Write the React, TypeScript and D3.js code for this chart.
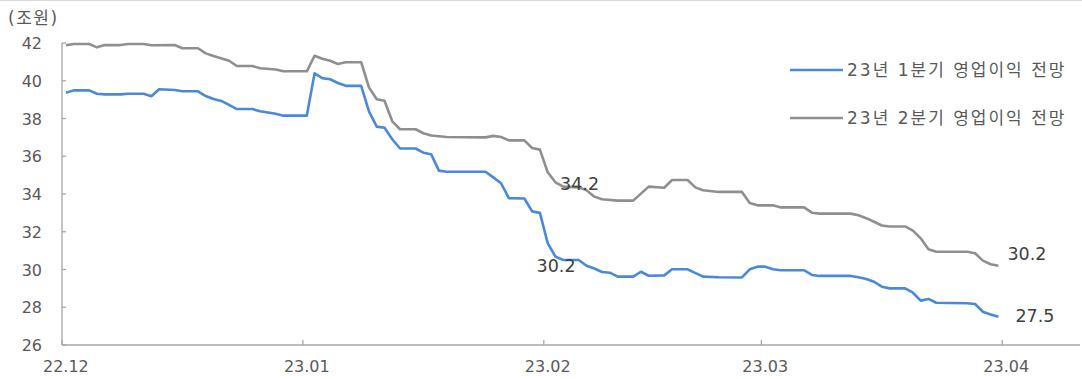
import React from "react";
import * as d3 from "d3";

// Consensus operating profit (trillion won), daily vertices
const q1Dates = [
  "2022-12-01","2022-12-02","2022-12-04","2022-12-05","2022-12-06","2022-12-08","2022-12-09","2022-12-11",
  "2022-12-12","2022-12-13","2022-12-15","2022-12-16","2022-12-18","2022-12-19","2022-12-20","2022-12-21",
  "2022-12-22","2022-12-23","2022-12-25","2022-12-26","2022-12-28","2022-12-29","2023-01-01","2023-01-02",
  "2023-01-03","2023-01-04","2023-01-05","2023-01-06","2023-01-08","2023-01-09","2023-01-10","2023-01-11",
  "2023-01-12","2023-01-13","2023-01-15","2023-01-16","2023-01-17","2023-01-18","2023-01-19","2023-01-24",
  "2023-01-25","2023-01-26","2023-01-27","2023-01-29","2023-01-30","2023-01-31","2023-02-01","2023-02-02",
  "2023-02-03","2023-02-05","2023-02-06","2023-02-07","2023-02-08","2023-02-09","2023-02-10","2023-02-12",
  "2023-02-13","2023-02-14","2023-02-16","2023-02-17","2023-02-19","2023-02-21","2023-02-23","2023-02-26",
  "2023-02-27","2023-02-28","2023-03-01","2023-03-02","2023-03-03","2023-03-06","2023-03-07","2023-03-08",
  "2023-03-12","2023-03-13","2023-03-14","2023-03-15","2023-03-16","2023-03-17","2023-03-19","2023-03-20",
  "2023-03-21","2023-03-22","2023-03-23","2023-03-27","2023-03-28","2023-03-29","2023-03-30","2023-03-31",
];
const q1Values = [
  39.37,39.49,39.49,39.31,39.28,39.28,39.31,39.31,
  39.18,39.55,39.51,39.44,39.44,39.19,39.03,38.93,
  38.72,38.5,38.5,38.38,38.25,38.15,38.15,40.39,
  40.14,40.08,39.88,39.73,39.73,38.38,37.57,37.51,
  36.9,36.41,36.41,36.19,36.11,35.24,35.18,35.18,
  34.88,34.57,33.78,33.76,33.08,33.0,31.4,30.68,
  30.5,30.5,30.2,30.05,29.87,29.83,29.62,29.62,
  29.88,29.67,29.69,30.01,30.01,29.62,29.59,29.58,
  30.01,30.15,30.15,30.01,29.96,29.96,29.71,29.66,
  29.66,29.59,29.5,29.35,29.09,29.0,29.0,28.77,
  28.35,28.44,28.24,28.21,28.17,27.76,27.62,27.5,
];

const q2Dates = [
  "2022-12-01","2022-12-02","2022-12-04","2022-12-05","2022-12-06","2022-12-08","2022-12-09","2022-12-11",
  "2022-12-12","2022-12-15","2022-12-16","2022-12-18","2022-12-19","2022-12-20","2022-12-22","2022-12-23",
  "2022-12-25","2022-12-26","2022-12-28","2022-12-29","2023-01-01","2023-01-02","2023-01-03","2023-01-04",
  "2023-01-05","2023-01-06","2023-01-08","2023-01-09","2023-01-10","2023-01-11","2023-01-12","2023-01-13",
  "2023-01-15","2023-01-16","2023-01-17","2023-01-19","2023-01-24","2023-01-25","2023-01-26","2023-01-27",
  "2023-01-29","2023-01-30","2023-01-31","2023-02-01","2023-02-02","2023-02-03","2023-02-05","2023-02-06",
  "2023-02-07","2023-02-08","2023-02-10","2023-02-12","2023-02-14","2023-02-16","2023-02-17","2023-02-19",
  "2023-02-20","2023-02-21","2023-02-23","2023-02-26","2023-02-27","2023-02-28","2023-03-02","2023-03-03",
  "2023-03-06","2023-03-07","2023-03-08","2023-03-12","2023-03-13","2023-03-14","2023-03-15","2023-03-16",
  "2023-03-17","2023-03-19","2023-03-20","2023-03-21","2023-03-22","2023-03-23","2023-03-27","2023-03-28",
  "2023-03-29","2023-03-30","2023-03-31",
];
const q2Values = [
  41.88,41.95,41.95,41.77,41.89,41.89,41.95,41.95,
  41.88,41.89,41.72,41.72,41.45,41.31,41.06,40.78,
  40.78,40.66,40.6,40.5,40.5,41.32,41.17,41.06,
  40.89,40.98,40.98,39.65,39.02,38.94,37.85,37.43,
  37.43,37.22,37.1,37.02,37.0,37.08,37.02,36.84,
  36.84,36.44,36.35,35.15,34.62,34.39,34.35,34.2,
  33.86,33.72,33.65,33.65,34.39,34.33,34.74,34.74,
  34.35,34.2,34.11,34.11,33.52,33.4,33.4,33.29,
  33.29,33.01,32.96,32.96,32.87,32.72,32.53,32.33,
  32.28,32.28,32.06,31.65,31.07,30.94,30.94,30.86,
  30.47,30.28,30.2,
];

const seriesNames = ["23년 1분기 영업이익 전망", "23년 2분기 영업이익 전망"];
const seriesColors = ["#4a88da", "#8f8f8f"];

const yTicks = [26, 28, 30, 32, 34, 36, 38, 40, 42];
const xTickDates = ["2022-12-01", "2023-01-01", "2023-02-01", "2023-03-01", "2023-04-01"];
const xTickLabels = ["22.12", "23.01", "23.02", "23.03", "23.04"];

// Labelled points: [series index, date]
const callouts: [number, string][] = [
  [1, "2023-02-06"],
  [0, "2023-02-06"],
  [1, "2023-03-31"],
  [0, "2023-03-31"],
];

const W = 1082;
const H = 379;
const FONT = "'DejaVu Sans', 'Noto Sans CJK KR', sans-serif";

const parse = (s: string) => new Date(s + "T00:00:00Z");
const midDay = (s: string) => new Date(parse(s).getTime() + 12 * 3600 * 1000);

export default function App() {
  const x = d3
    .scaleUtc()
    .domain([parse("2022-12-01"), parse("2023-04-11")])
    .range([62, 1080]);
  const y = d3.scaleLinear().domain([26, 42]).range([345, 43]);

  const series = [
    q1Dates.map((d, i) => ({ date: d, value: q1Values[i] })),
    q2Dates.map((d, i) => ({ date: d, value: q2Values[i] })),
  ];

  const line = d3
    .line<{ date: string; value: number }>()
    .x((d) => x(midDay(d.date)))
    .y((d) => y(d.value));

  const axisColor = "#a6a6a6";
  const textColor = "#595959";

  const calloutOffsets = [
    { dx: -7, dy: 0, anchor: "middle" },
    { dx: -11, dy: 6.5, anchor: "end" },
    { dx: 9, dy: -6, anchor: "start" },
    { dx: 17, dy: 5.5, anchor: "start" },
  ];

  return (
    <svg
      width={W}
      height={H}
      style={{ position: "absolute", left: 0, top: 0, background: "#fff" }}
      fontFamily={FONT}
    >
      <line x1={0} x2={W} y1={0.5} y2={0.5} stroke="#d9d9d9" strokeWidth={1} />

      <text x={8} y={24} fontSize={17} letterSpacing={1.5} fill={textColor}>
        (조원)
      </text>

      {/* y axis */}
      <line x1={62} x2={62} y1={y(42)} y2={y(26)} stroke={axisColor} strokeWidth={1.3} />
      {yTicks.map((t) => (
        <g key={t}>
          <line x1={62} x2={66} y1={y(t)} y2={y(t)} stroke={axisColor} strokeWidth={1.3} />
          <text x={42} y={y(t) + 6} fontSize={16} fill={textColor} textAnchor="end">
            {t}
          </text>
        </g>
      ))}

      {/* x axis */}
      <line x1={62} x2={1080} y1={y(26)} y2={y(26)} stroke={axisColor} strokeWidth={1.3} />
      {xTickDates.map((d, i) => (
        <g key={d}>
          <line
            x1={x(parse(d))}
            x2={x(parse(d))}
            y1={y(26)}
            y2={y(26) - 5}
            stroke={axisColor}
            strokeWidth={1.3}
          />
          <text x={x(midDay(d))} y={372} fontSize={16} fill={textColor} textAnchor="middle">
            {xTickLabels[i]}
          </text>
        </g>
      ))}

      {/* series */}
      {series.map((s, i) => (
        <path
          key={i}
          d={line(s) || ""}
          fill="none"
          stroke={seriesColors[i]}
          strokeWidth={2.6}
          strokeLinejoin="round"
        />
      ))}

      {/* callouts */}
      {callouts.map(([si, d], k) => {
        const p = series[si].find((v) => v.date === d)!;
        const o = calloutOffsets[k];
        return (
          <text
            key={k}
            x={x(midDay(d)) + o.dx}
            y={y(p.value) + o.dy}
            fontSize={17.5}
            fill="#404040"
            textAnchor={o.anchor as any}
          >
            {p.value.toFixed(1)}
          </text>
        );
      })}

      {/* legend */}
      {seriesNames.map((n, i) => (
        <g key={n}>
          <line
            x1={790}
            x2={843}
            y1={70 + i * 48}
            y2={70 + i * 48}
            stroke={seriesColors[i]}
            strokeWidth={2.6}
          />
          <text x={847} y={76 + i * 48} fontSize={17} letterSpacing={2} fill={textColor}>
            {n}
          </text>
        </g>
      ))}
    </svg>
  );
}
